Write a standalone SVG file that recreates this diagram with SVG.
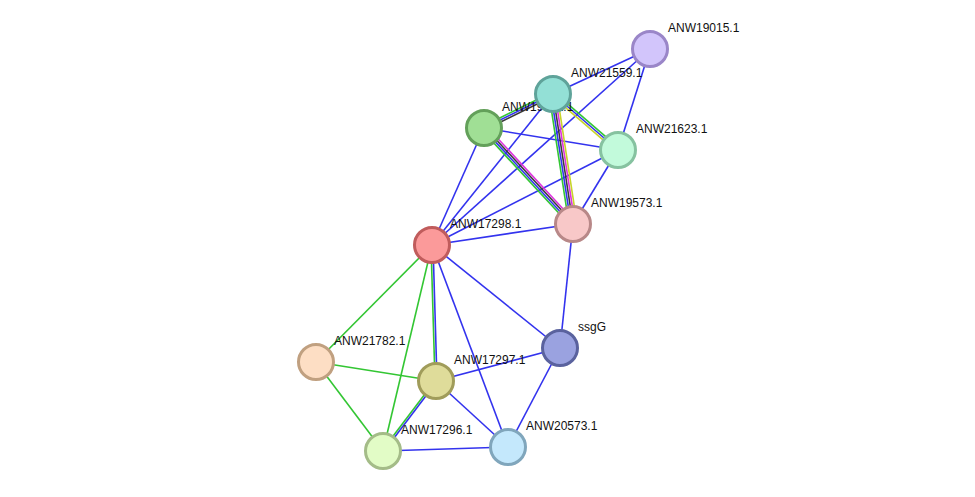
<svg xmlns="http://www.w3.org/2000/svg" width="975" height="497" viewBox="0 0 975 497">
<style>
line{stroke-width:1.6}
.b{stroke:#3333ee}
.g{stroke:#33c633}
.k{stroke:#3a3a3a}
.m{stroke:#dd33dd}
.y{stroke:#c8d42a}
circle{stroke-width:3}
text{font-family:"Liberation Sans",Arial,sans-serif;font-size:12px;fill:#111}
</style>
<rect width="975" height="497" fill="#fff"/>
<g id="edges">
<line class="b" x1="650" y1="49" x2="553" y2="94"/>
<line class="b" x1="650" y1="49" x2="432" y2="245"/>
<line class="b" x1="650" y1="49" x2="618" y2="150"/>
<line class="b" x1="553" y1="94" x2="432" y2="245"/>
<line class="b" x1="484" y1="128" x2="618" y2="150"/>
<line class="b" x1="484" y1="128" x2="432" y2="245"/>
<line class="b" x1="618" y1="150" x2="432" y2="245"/>
<line class="b" x1="618" y1="150" x2="573" y2="224"/>
<line class="b" x1="573" y1="224" x2="432" y2="245"/>
<line class="b" x1="573" y1="224" x2="560" y2="348"/>
<line class="b" x1="432" y1="245" x2="560" y2="348"/>
<line class="g" x1="432" y1="245" x2="316" y2="362"/>
<line class="g" x1="432" y1="245" x2="383" y2="451"/>
<line class="b" x1="432" y1="245" x2="508" y2="447"/>
<line class="g" x1="316" y1="362" x2="436" y2="381"/>
<line class="g" x1="316" y1="362" x2="383" y2="451"/>
<line class="b" x1="436" y1="381" x2="560" y2="348"/>
<line class="b" x1="436" y1="381" x2="508" y2="447"/>
<line class="b" x1="383" y1="451" x2="508" y2="447"/>
<line class="b" x1="560" y1="348" x2="508" y2="447"/>
<line class="g" x1="483.1" y1="126.2" x2="552.1" y2="92.2"/>
<line class="b" x1="484" y1="128" x2="553" y2="94"/>
<line class="k" x1="484.9" y1="129.8" x2="553.9" y2="95.8"/>
<line class="g" x1="549.05" y1="94.61" x2="569.05" y2="224.61"/>
<line class="b" x1="551.02" y1="94.3" x2="571.02" y2="224.3"/>
<line class="k" x1="553" y1="94" x2="573" y2="224"/>
<line class="m" x1="554.98" y1="93.7" x2="574.98" y2="223.7"/>
<line class="y" x1="556.95" y1="93.39" x2="576.95" y2="223.39"/>
<line class="g" x1="554.31" y1="92.48" x2="619.31" y2="148.48"/>
<line class="b" x1="553" y1="94" x2="618" y2="150"/>
<line class="y" x1="551.69" y1="95.52" x2="616.69" y2="151.52"/>
<line class="g" x1="481.8" y1="130.04" x2="570.8" y2="226.04"/>
<line class="b" x1="483.27" y1="128.68" x2="572.27" y2="224.68"/>
<line class="k" x1="484.73" y1="127.32" x2="573.73" y2="223.32"/>
<line class="m" x1="486.2" y1="125.96" x2="575.2" y2="221.96"/>
<line class="g" x1="431" y1="245" x2="435" y2="381"/>
<line class="b" x1="433" y1="245" x2="437" y2="381"/>
<line class="g" x1="435.2" y1="380.4" x2="382.2" y2="450.4"/>
<line class="b" x1="436.8" y1="381.6" x2="383.8" y2="451.6"/>
</g>
<g id="n_ANW19015"><circle cx="650" cy="49" r="17.5" fill="#d2c5fb" stroke="#9a86c8"/><text x="668" y="32">ANW19015.1</text></g>
<g id="n_ANW1xxxx"><circle cx="484" cy="128" r="17.5" fill="#a0df95" stroke="#63a05a"/><text x="502" y="111">ANW19572.1</text></g>
<g id="n_ANW21559"><circle cx="553" cy="94" r="17.5" fill="#93e0d6" stroke="#5fa39a"/><text x="571" y="77">ANW21559.1</text></g>
<g id="n_ANW21623"><circle cx="618" cy="150" r="17.5" fill="#c2fadb" stroke="#86c2a0"/><text x="636" y="133">ANW21623.1</text></g>
<g id="n_ANW19573"><circle cx="573" cy="224" r="17.5" fill="#f8c8c8" stroke="#b88888"/><text x="591" y="207">ANW19573.1</text></g>
<g id="n_ANW17298"><circle cx="432" cy="245" r="17.5" fill="#fb9a9a" stroke="#c05c5c"/><text x="450" y="228">ANW17298.1</text></g>
<g id="n_ssgG"><circle cx="560" cy="348" r="17.5" fill="#9aa2e0" stroke="#5a629e"/><text x="578" y="331">ssgG</text></g>
<g id="n_ANW21782"><circle cx="316" cy="362" r="17.5" fill="#fddec4" stroke="#c0a080"/><text x="334" y="345">ANW21782.1</text></g>
<g id="n_ANW17297"><circle cx="436" cy="381" r="17.5" fill="#dfdc9a" stroke="#a09c5a"/><text x="454" y="364">ANW17297.1</text></g>
<g id="n_ANW17296"><circle cx="383" cy="451" r="17.5" fill="#e2fcc6" stroke="#a4bc88"/><text x="401" y="434">ANW17296.1</text></g>
<g id="n_ANW20573"><circle cx="508" cy="447" r="17.5" fill="#c4e8fc" stroke="#80a6bc"/><text x="526" y="430">ANW20573.1</text></g>
</svg>
